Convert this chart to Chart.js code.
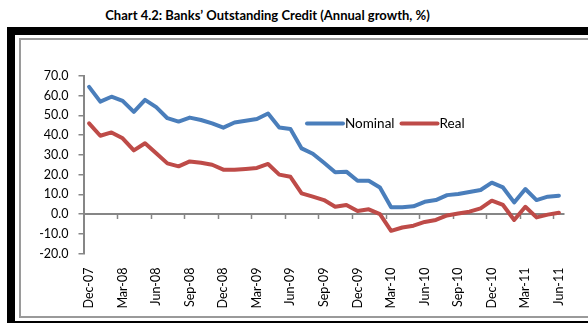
<!DOCTYPE html>
<html>
<head>
<meta charset="utf-8">
<script src="https://cdn.jsdelivr.net/npm/chart.js@4"></script>
<style>
  html, body { margin: 0; padding: 0; background: #fff; }
  #wrap { position: relative; width: 588px; height: 323px; overflow: hidden; background: #fff; }
  #title {
    position: absolute; left: 0; top: 8px; width: 535px; text-align: center;
    font: bold 13px Lato, "Open Sans", sans-serif; line-height: 15px; color: #000;
    white-space: nowrap;
  }
  #frameOuter {
    position: absolute; left: 7px; top: 27px; width: 620px; height: 302px;
    box-sizing: border-box; border: 8px solid #000;
  }
  #frameInner {
    position: absolute; left: 19px; top: 38px; width: 620px; height: 280px;
    box-sizing: border-box; border: 2px solid #9a9a9a;
  }
  #c { position: absolute; left: 0; top: 0; }
</style>
</head>
<body>
<div id="wrap">
  <div id="title">Chart 4.2: Banks’ Outstanding Credit (Annual growth, %)</div>
  <div id="frameOuter"></div>
  <div id="frameInner"></div>
  <canvas id="c" width="588" height="323"></canvas>
</div>
<script>
// Monthly observations, Dec-07 to Jun-11
const months = [
  'Dec-07','Jan-08','Feb-08','Mar-08','Apr-08','May-08','Jun-08','Jul-08','Aug-08','Sep-08',
  'Oct-08','Nov-08','Dec-08','Jan-09','Feb-09','Mar-09','Apr-09','May-09','Jun-09','Jul-09',
  'Aug-09','Sep-09','Oct-09','Nov-09','Dec-09','Jan-10','Feb-10','Mar-10','Apr-10','May-10',
  'Jun-10','Jul-10','Aug-10','Sep-10','Oct-10','Nov-10','Dec-10','Jan-11','Feb-11','Mar-11',
  'Apr-11','May-11','Jun-11'
];

// Annual growth of outstanding bank credit, %
const nominalGrowth = [
  64.5, 57.0, 59.5, 57.4, 51.8, 57.9, 54.2, 48.6, 46.9, 48.9,
  47.7, 46.0, 43.8, 46.4, 47.3, 48.2, 51.0, 43.9, 43.1, 33.3,
  30.6, 26.0, 21.2, 21.5, 16.9, 16.9, 13.5, 3.4, 3.4, 3.9,
  6.2, 7.1, 9.6, 10.2, 11.2, 12.2, 15.9, 13.5, 5.9, 12.7,
  7.1, 8.8, 9.3
];
const realGrowth = [
  46.0, 39.7, 41.4, 38.4, 32.3, 35.9, 30.8, 25.7, 24.2, 26.7,
  26.0, 25.0, 22.5, 22.5, 22.9, 23.4, 25.4, 20.0, 18.9, 10.5,
  8.8, 7.1, 3.7, 4.6, 1.5, 2.4, 0.0, -8.5, -6.8, -5.9,
  -4.0, -3.0, -0.7, 0.3, 1.2, 2.9, 6.8, 4.6, -3.0, 3.7,
  -1.7, -0.3, 0.7
];

const seriesNames = ['Nominal', 'Real'];
const seriesColors = ['#4A7EBB', '#BE4B48'];

// y axis range and step
const yMin = -20, yMax = 70, yStep = 10;
// one x label every quarter
const labelEvery = 3;

const axisGrey = '#868686';

// Horizontal axis line at zero with quarterly tick marks between categories
const zeroAxis = {
  id: 'zeroAxis',
  beforeDatasetsDraw(chart) {
    const { ctx, chartArea, scales: { x, y } } = chart;
    const y0 = y.getPixelForValue(0);
    const half = (x.getPixelForValue(1) - x.getPixelForValue(0)) / 2;
    ctx.save();
    ctx.strokeStyle = axisGrey;
    ctx.lineWidth = 2;
    ctx.beginPath();
    ctx.moveTo(chartArea.left, y0);
    ctx.lineTo(chartArea.right, y0);
    ctx.stroke();
    ctx.lineWidth = 1.5;
    ctx.beginPath();
    for (let k = labelEvery; k < months.length; k += labelEvery) {
      const bx = Math.round(x.getPixelForValue(k) - half) + 0.5;
      ctx.moveTo(bx, y0);
      ctx.lineTo(bx, y0 + 5);
    }
    ctx.stroke();
    ctx.restore();
  }
};

// Legend drawn inside the plot area
const innerLegend = {
  id: 'innerLegend',
  afterDraw(chart) {
    const { ctx } = chart;
    let lx = 307;
    const ly = 123.5;
    ctx.save();
    ctx.font = '13.5px Lato, "Open Sans", sans-serif';
    ctx.textBaseline = 'middle';
    ctx.textAlign = 'left';
    chart.data.datasets.forEach(ds => {
      ctx.strokeStyle = ds.borderColor;
      ctx.lineWidth = 4;
      ctx.lineCap = 'round';
      ctx.beginPath();
      ctx.moveTo(lx, ly);
      ctx.lineTo(lx + 36, ly);
      ctx.stroke();
      ctx.fillStyle = '#000';
      ctx.fillText(ds.label, lx + 38, ly + 0.5);
      lx += 38 + ctx.measureText(ds.label).width + 7;
    });
    ctx.restore();
  }
};

new Chart(document.getElementById('c'), {
  type: 'line',
  data: {
    labels: months,
    datasets: [
      { label: seriesNames[0], data: nominalGrowth, borderColor: seriesColors[0] },
      { label: seriesNames[1], data: realGrowth, borderColor: seriesColors[1] }
    ]
  },
  options: {
    responsive: false,
    animation: false,
    devicePixelRatio: 1,
    layout: { padding: { top: 76, right: 8, bottom: 0, left: 0 } },
    elements: {
      line: { borderWidth: 4, tension: 0, borderJoinStyle: 'round', borderCapStyle: 'round', fill: false },
      point: { radius: 0, hoverRadius: 0 }
    },
    plugins: {
      legend: { display: false },
      title: { display: false },
      tooltip: { enabled: false }
    },
    scales: {
      x: {
        type: 'category',
        offset: true,
        grid: { display: false, drawTicks: false },
        border: { display: false },
        ticks: {
          autoSkip: false,
          maxRotation: 90,
          minRotation: 90,
          padding: 14,
          color: '#000',
          font: { family: 'Lato, "Open Sans", sans-serif', size: 12.5 },
          callback: (v, i) => (i % labelEvery === 0 ? months[i] : '')
        },
        afterFit: s => { s.height = 323 - 253.5; }
      },
      y: {
        min: yMin,
        max: yMax,
        grid: { drawOnChartArea: false, drawTicks: true, tickLength: 5, color: axisGrey, lineWidth: 1.5 },
        border: { display: true, color: axisGrey, width: 2 },
        ticks: {
          stepSize: yStep,
          padding: 10,
          color: '#000',
          font: { family: 'Lato, "Open Sans", sans-serif', size: 12.5 },
          callback: v => v.toFixed(1)
        },
        afterFit: s => { s.width = 83.5; }
      }
    }
  },
  plugins: [zeroAxis, innerLegend]
});
</script>
</body>
</html>
